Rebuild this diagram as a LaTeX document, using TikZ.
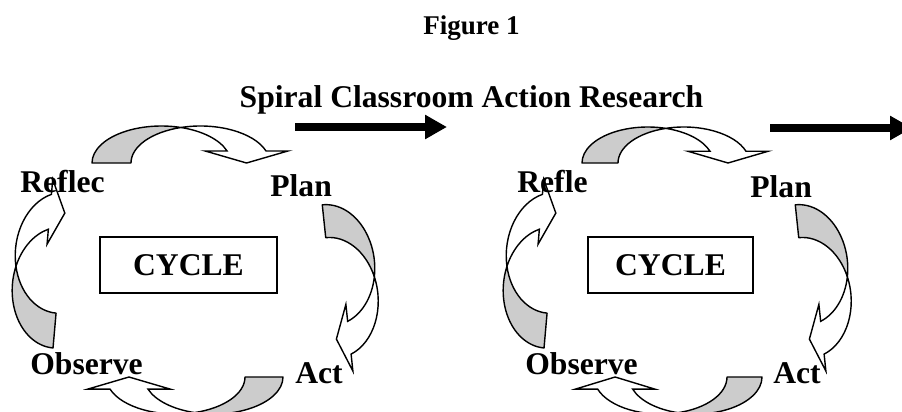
\documentclass[tikz,border=0pt]{standalone}
\usepackage{fontspec}
\setmainfont{Liberation Serif}
\usetikzlibrary{arrows.meta}

\definecolor{bandgray}{gray}{0.8}

% curved band arrow in its own frame: foot at the left, bulge up, head at the right
\newcommand{\bandarrow}[5]{%
	\pgfmathsetmacro{\crossA}{acos(#3/(2*#1))}
	\pgfmathsetmacro{\crossB}{180-\crossA}
	\pgfmathsetmacro{\crossY}{#2*sin(\crossA)}
	\pgfmathsetmacro{\halfW}{#3/2}
	\pgfmathsetmacro{\endX}{#1*cos(#4)}
	\pgfmathsetmacro{\endY}{#2*sin(#4)}
	\filldraw[band back] (-#1,0) arc[start angle=180,end angle=\crossA,x radius=#1,y radius=#2]
		arc[start angle=\crossB,end angle=180,x radius=#1,y radius=#2] -- cycle;
	\filldraw[band front] (\halfW,\crossY) arc[start angle=\crossB,end angle=#4,x radius=#1,y radius=#2]
		-- ++(#5,0) -- (\halfW+\endX,0) -- (\endX-#5,\endY) -- (\endX,\endY)
		arc[start angle=#4,end angle=\crossA,x radius=#1,y radius=#2] -- cycle;
}

\tikzset{
	band back/.style={fill=bandgray,draw=black,thick,line join=round},
	band front/.style={fill=white,draw=black,thick},
	steplabel/.style={font=\bfseries\fontsize{18}{20}\selectfont,inner sep=0pt,anchor=base west},
	cyclebox/.style={draw,thick,font=\bfseries\fontsize{18}{20}\selectfont,minimum height=1.12cm,inner sep=0pt},
	nextarrow/.style={line width=4.5pt,-{Triangle[length=0.44cm,width=0.46cm]}}
}

\begin{document}
\begin{tikzpicture}[x=0.02cm,y=0.02cm]
	
	\useasboundingbox (0,0) rectangle (902,-412);
	\clip (0,0) rectangle (902,-412);
	
	
	% first cycle
	\begin{scope}[shift={(161.4,-163)}]
		\bandarrow{69.4}{37}{39}{19}{22}
	\end{scope}
	\begin{scope}[shift={(328.6,-265)},rotate=-84]
		\bandarrow{60.5}{46}{33}{16.5}{17}
	\end{scope}
	\begin{scope}[shift={(213.6,-377)},rotate=180]
		\bandarrow{69.4}{37}{38}{19}{22}
	\end{scope}
	\begin{scope}[shift={(58.3,-287.6)},rotate=85]
		\bandarrow{60.6}{46}{35}{19}{15}
	\end{scope}
	
	
	% second cycle
	\begin{scope}[shift={(647.8,-163)}]
		\bandarrow{65.8}{36}{36}{19}{22}
	\end{scope}
	\begin{scope}[shift={(801.6,-265)},rotate=-84]
		\bandarrow{60.5}{46}{33}{16.5}{17}
	\end{scope}
	\begin{scope}[shift={(695.5,-377)},rotate=180]
		\bandarrow{66.5}{37}{35}{19}{22}
	\end{scope}
	\begin{scope}[shift={(549.3,-287.6)},rotate=85]
		\bandarrow{60.6}{46}{35}{19}{15}
	\end{scope}
	
	
	% arrows to the next cycle
	\coordinate (from1) at (295,-127);
	\coordinate (to1) at (447,-127);
	\coordinate (from2) at (770,-128);
	\coordinate (to2) at (912,-128);
	\draw[nextarrow] (from1) -- (to1);
	\draw[nextarrow] (from2) -- (to2);
	
	
	\node[font=\bfseries\fontsize{15.4}{17}\selectfont,anchor=base,inner sep=0pt] (fig) at (471.5,-35) {Figure 1};
	\node[font=\bfseries\fontsize{18}{20}\selectfont,anchor=base,inner sep=0pt] (title) at (471.5,-108) {Spiral Classroom Action Research};
	
	
	\node[steplabel] (reflect1) at (20,-192) {Reflec};
	\node[steplabel] (plan1) at (270,-196) {Plan};
	\node[steplabel] (act1) at (295,-383) {Act};
	\node[steplabel] (observe1) at (30,-374) {Observe};
	\node[cyclebox,minimum width=3.54cm] (cycle1) at (188.5,-265) {CYCLE};
	
	\node[steplabel] (reflect2) at (517,-192) {Refle};
	\node[steplabel] (plan2) at (750,-197) {Plan};
	\node[steplabel] (act2) at (773,-383) {Act};
	\node[steplabel] (observe2) at (525,-374) {Observe};
	\node[cyclebox,minimum width=3.3cm] (cycle2) at (670.5,-265) {CYCLE};
	
\end{tikzpicture}
\end{document}
